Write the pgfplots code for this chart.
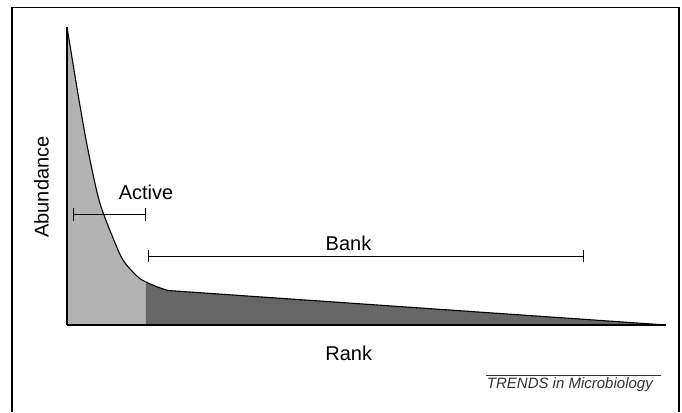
\documentclass[border=0pt]{standalone}
\usepackage{pgfplots}
\pgfplotsset{compat=1.18}
\usepackage{fontspec}
\setmainfont{Liberation Sans}
\definecolor{lightfill}{HTML}{B3B3B3}
\definecolor{darkfill}{HTML}{666666}
\definecolor{trendgray}{HTML}{333333}
\begin{document}
\begin{tikzpicture}
\begin{axis}[
    width=599pt, height=298pt,
    scale only axis,
    xmin=0, xmax=599,
    ymin=0, ymax=298,
    axis x line=bottom,
    axis y line=left,
    axis line style={-, line width=1.3pt},
    xtick=\empty, ytick=\empty,
    clip=false,
    axis on top,
]
% active part (light)
\addplot[fill=lightfill, draw=none, smooth, tension=0.5] coordinates {
(0,298) (12,225) (21,175) (32,125) (44,92) (56,65) (71,48) (79,43)
} \closedcycle;
% bank part (dark)
\addplot[fill=darkfill, draw=none] coordinates {
(79,43) (84,40.6) (90,38.2) (95,36.3) (101,34.5) (599,0)
} \closedcycle;
% abundance curve
\addplot[line width=1.1pt, smooth, tension=0.5] coordinates {
(0,298) (12,225) (21,175) (32,125) (44,92) (56,65) (71,48) (79,43) (90,38.2) (101,34.5)
};
\addplot[line width=1.1pt] coordinates {(101,34.5) (599,0)};

% active and bank ranges
\draw[line width=0.9pt] (axis cs:6,111) -- (axis cs:78,111);
\draw[line width=0.9pt] (axis cs:6,104.5) -- (axis cs:6,117.5);
\draw[line width=0.9pt] (axis cs:78,104.5) -- (axis cs:78,117.5);
\node[anchor=base, font=\fontsize{20}{24}\selectfont] at (axis cs:79,126) {Active};

\draw[line width=0.9pt] (axis cs:81,69) -- (axis cs:516,69);
\draw[line width=0.9pt] (axis cs:81,63) -- (axis cs:81,75);
\draw[line width=0.9pt] (axis cs:516,63) -- (axis cs:516,75);
\node[anchor=base, font=\fontsize{20}{24}\selectfont] at (axis cs:281.5,75) {Bank};

% axis labels
\node[anchor=base, font=\fontsize{20}{24}\selectfont] at (axis cs:281.7,-35) {Rank};
\node[rotate=90, font=\fontsize{20}{24}\selectfont] at (axis cs:-25.5,138) {Abundance};

% journal tag
\draw[line width=0.8pt, trendgray] (axis cs:419,-50) -- (axis cs:594,-50);
\node[anchor=base east, font=\fontsize{15}{18}\selectfont\itshape, text=trendgray, inner sep=0pt] at (axis cs:586,-63) {TRENDS in Microbiology};

% outer frame
\draw[line width=1.6pt] (axis cs:-55,-87) -- (axis cs:-55,317.5) -- (axis cs:612,317.5) -- (axis cs:612,-87);
\path[use as bounding box] (axis cs:-67,-87) rectangle (axis cs:615,325);
\end{axis}
\end{tikzpicture}
\end{document}
